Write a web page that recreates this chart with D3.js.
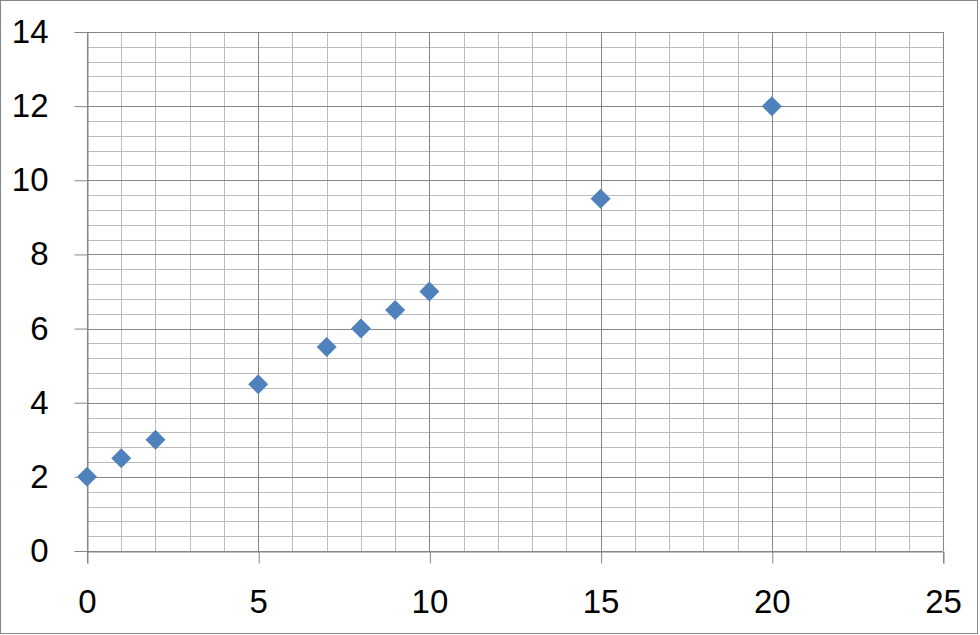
<!DOCTYPE html>
<html><head><meta charset="utf-8">
<script src="https://cdn.jsdelivr.net/npm/d3@7"></script>
<style>html,body{margin:0;padding:0;background:#fff;}svg{display:block;}</style>
</head><body>
<script>
const xValues = [0, 1, 2, 5, 7, 8, 9, 10, 15, 20];
const yValues = [2, 2.5, 3, 4.5, 5.5, 6, 6.5, 7, 9.5, 12];
const xTicks = [0, 5, 10, 15, 20, 25];
const yTicks = [0, 2, 4, 6, 8, 10, 12, 14];

const W = 980, H = 635;
const svg = d3.select("body").append("svg").attr("width", W).attr("height", H);
svg.append("rect").attr("x", 0.5).attr("y", 0.5).attr("width", 977).attr("height", 633)
  .attr("fill", "#fff").attr("stroke", "#868686").attr("stroke-width", 1);

const x = d3.scaleLinear().domain([0, 25]).range([87, 943]);
const y = d3.scaleLinear().domain([0, 14]).range([551, 32]);

const g = svg.append("g");
// minor grid
const xMinor = d3.range(0, 25.001, 1).filter(v => v % 5 !== 0);
const yMinor = d3.range(0, 70.001, 2).map(v => v / 5).filter(v => Math.abs(v / 2 - Math.round(v / 2)) > 1e-6);
g.selectAll(".vm").data(xMinor).join("line")
  .attr("x1", d => Math.round(x(d)) + 0.5).attr("x2", d => Math.round(x(d)) + 0.5)
  .attr("y1", y(14)).attr("y2", y(0)).attr("stroke", "#bcbcbc");
g.selectAll(".hm").data(yMinor).join("line")
  .attr("y1", d => Math.round(y(d)) + 0.5).attr("y2", d => Math.round(y(d)) + 0.5)
  .attr("x1", x(0)).attr("x2", x(25)).attr("stroke", "#bcbcbc");
// major grid
g.selectAll(".vM").data(xTicks).join("line")
  .attr("x1", d => Math.round(x(d)) + 0.5).attr("x2", d => Math.round(x(d)) + 0.5)
  .attr("y1", y(14)).attr("y2", y(0)).attr("stroke", "#868686");
g.selectAll(".hM").data(yTicks).join("line")
  .attr("y1", d => Math.round(y(d)) + 0.5).attr("y2", d => Math.round(y(d)) + 0.5)
  .attr("x1", x(0)).attr("x2", x(25)).attr("stroke", "#868686");

// axes
const font = "'Liberation Sans', Arial, sans-serif";
const yAxis = svg.append("g").attr("transform", `translate(${Math.round(x(0)) + 0.5},0)`)
  .call(d3.axisLeft(y).tickValues(yTicks).tickSize(13).tickPadding(26).tickFormat(d3.format("d")));
const xAxis = svg.append("g").attr("transform", `translate(0,${Math.round(y(0)) + 0.5})`)
  .call(d3.axisBottom(x).tickValues(xTicks).tickSize(12).tickPadding(26).tickFormat(d3.format("d")));
[yAxis, xAxis].forEach(a => {
  a.select(".domain").attr("stroke", "#868686");
  a.selectAll(".tick line").attr("stroke", "#868686");
  a.selectAll(".tick text").attr("fill", "#000").style("font-family", font).style("font-size", "33px");
});
xAxis.selectAll(".tick line").attr("transform", "translate(0.5,0)");

// points
const sym = d3.symbol().type(d3.symbolDiamond2).size(200);
svg.append("g").selectAll("path").data(xValues.map((v, i) => [v, yValues[i]])).join("path")
  .attr("d", d3.symbol().type(d3.symbolSquare).size(200))
  .attr("transform", d => `translate(${x(d[0])},${y(d[1])}) rotate(45)`)
  .attr("fill", "#4F81BD");
</script>
</body></html>
